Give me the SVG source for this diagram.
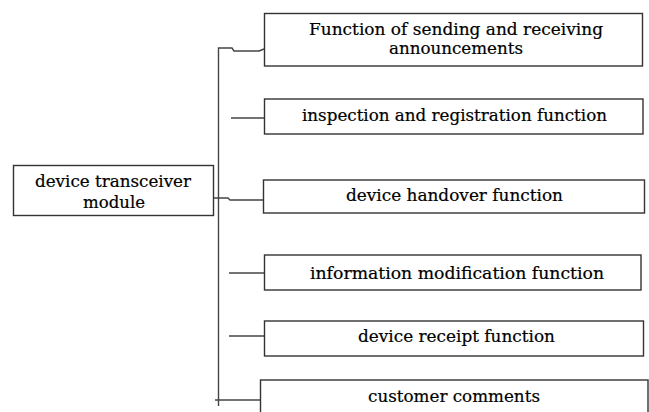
<svg xmlns="http://www.w3.org/2000/svg" width="649" height="412" viewBox="0 0 649 412">
<style>
.box{fill:#fff;stroke:#333;stroke-width:1.4}
.ln{fill:none;stroke:#444;stroke-width:1.4}
text{font-family:"DejaVu Serif","Liberation Serif",serif;font-size:17px;fill:#000;stroke:#000;stroke-width:0.2;text-anchor:middle}
</style>
<rect width="649" height="412" fill="#fff"/>
<g id="connectors">
<polyline class="ln" points="218.5,406 218.5,48 232,48 234,51 259,51 264,49"/>
<polyline class="ln" points="214,198 228,198 230,200 264,200"/>
<line class="ln" x1="231" y1="118" x2="266" y2="118"/>
<line class="ln" x1="229" y1="273" x2="266" y2="273"/>
<line class="ln" x1="229" y1="336" x2="264" y2="336"/>
<line class="ln" x1="215" y1="400" x2="260" y2="400"/>
</g>
<g id="module">
<rect class="box" x="13.5" y="165.5" width="200" height="50"/>
<text x="113" y="186.7" textLength="156" lengthAdjust="spacingAndGlyphs">device transceiver</text>
<text x="114" y="207.7" textLength="62" lengthAdjust="spacingAndGlyphs">module</text>
</g>
<g id="n1">
<rect class="box" x="264.5" y="13.5" width="378" height="52.5"/>
<text x="456" y="35" textLength="294" lengthAdjust="spacingAndGlyphs">Function of sending and receiving</text>
<text x="456" y="53.5" textLength="134" lengthAdjust="spacingAndGlyphs">announcements</text>
</g>
<g id="n2">
<rect class="box" x="264.5" y="99" width="378.5" height="35"/>
<text x="454.5" y="120.7" textLength="305" lengthAdjust="spacingAndGlyphs">inspection and registration function</text>
</g>
<g id="n3">
<rect class="box" x="263.5" y="180" width="381" height="33"/>
<text x="454.5" y="201.3" textLength="217" lengthAdjust="spacingAndGlyphs">device handover function</text>
</g>
<g id="n4">
<rect class="box" x="264.5" y="255" width="376.5" height="35"/>
<text x="457" y="278.7" textLength="294" lengthAdjust="spacingAndGlyphs">information modification function</text>
</g>
<g id="n5">
<rect class="box" x="264.5" y="321" width="379" height="35"/>
<text x="456.5" y="342" textLength="197" lengthAdjust="spacingAndGlyphs">device receipt function</text>
</g>
<g id="n6">
<rect class="box" x="260.5" y="380" width="387.5" height="40"/>
<text x="454" y="402" textLength="172" lengthAdjust="spacingAndGlyphs">customer comments</text>
</g>
</svg>
